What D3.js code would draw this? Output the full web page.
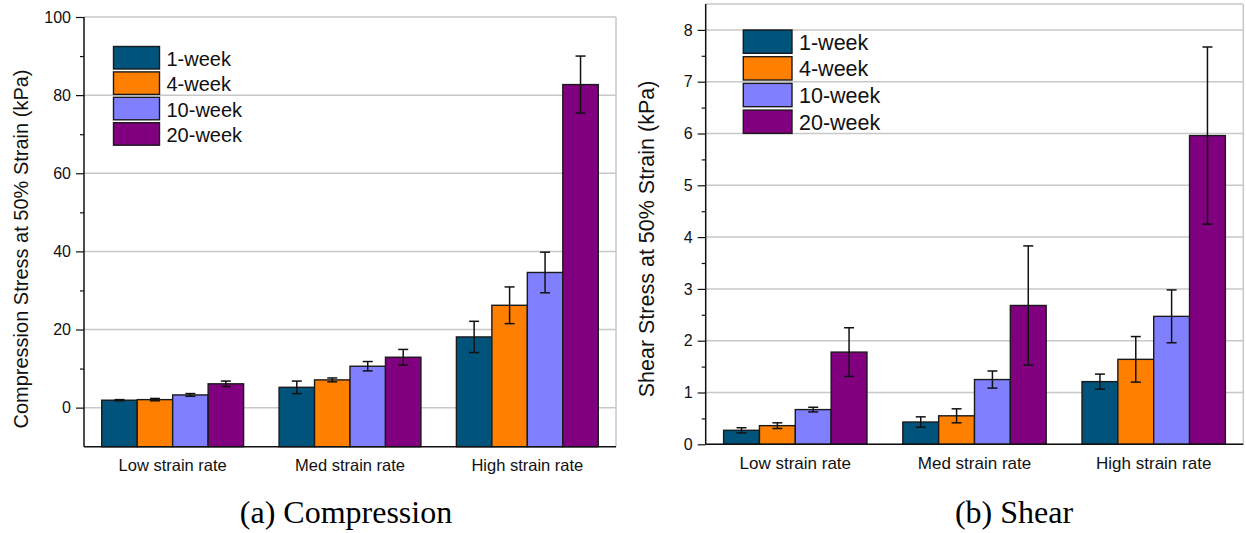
<!DOCTYPE html>
<html><head><meta charset="utf-8">
<script src="https://cdn.jsdelivr.net/npm/d3@7"></script>
<style>
html,body{margin:0;padding:0;background:#fff;}
svg{display:block;font-family:"Liberation Sans",Arial,sans-serif;}
</style></head>
<body>
<svg id="chart" width="1246" height="533"></svg>
<script>
// ---------- DATA ----------
const categories = ["Low strain rate", "Med strain rate", "High strain rate"];
const seriesNames = ["1-week", "4-week", "10-week", "20-week"];
const seriesColors = ["#00537a", "#ff8000", "#8080ff", "#800080"];

// Compression stress at 50% strain (kPa): means and error (±) per series, per category
const comp1wk = [1.9, 5.2, 18.1];
const comp4wk = [2.05, 7.1, 26.2];
const comp10wk = [3.25, 10.6, 34.6];
const comp20wk = [6.1, 12.9, 82.7];
const comp1wkErr = [0.15, 1.6, 4.0];
const comp4wkErr = [0.3, 0.5, 4.7];
const comp10wkErr = [0.35, 1.2, 5.2];
const comp20wkErr = [0.7, 2.0, 7.3];
const compTicks = [0, 20, 40, 60, 80, 100];
const compMinorTicks = [10, 30, 50, 70, 90];

// Shear stress at 50% strain (kPa)
const shear1wk = [0.27, 0.43, 1.21];
const shear4wk = [0.36, 0.55, 1.64];
const shear10wk = [0.67, 1.25, 2.47];
const shear20wk = [1.78, 2.68, 5.96];
const shear1wkErr = [0.05, 0.1, 0.145];
const shear4wkErr = [0.055, 0.135, 0.44];
const shear10wkErr = [0.045, 0.165, 0.51];
const shear20wkErr = [0.47, 1.15, 1.71];
const shearTicks = [0, 1, 2, 3, 4, 5, 6, 7, 8];
const shearMinorTicks = [0.5, 1.5, 2.5, 3.5, 4.5, 5.5, 6.5, 7.5];

const captions = ["(a) Compression", "(b) Shear"];

// ---------- DRAW ----------
const svg = d3.select("#chart");

function drawPanel(cfg) {
  const g = svg.append("g");
  const x = d3.scaleBand().domain(categories).range([cfg.left, cfg.right]).padding(0);
  const bw = x.bandwidth();
  const x1 = d3.scaleBand().domain(seriesNames).range([0.1 * bw, 0.9 * bw]).padding(0);
  const y = d3.scaleLinear().domain(cfg.domain).range([cfg.bottom, cfg.top]);

  // grid lines
  g.append("g").selectAll("line").data(cfg.ticks).join("line")
    .attr("x1", cfg.left).attr("x2", cfg.right)
    .attr("y1", d => y(d)).attr("y2", d => y(d))
    .attr("stroke", "#c8c8c8").attr("stroke-width", 1.5);
  // top border (if top isn't a tick)
  if (cfg.domain[1] !== cfg.ticks[cfg.ticks.length - 1]) {
    g.append("line").attr("x1", cfg.left).attr("x2", cfg.right)
      .attr("y1", y(cfg.domain[1])).attr("y2", y(cfg.domain[1]))
      .attr("stroke", "#c8c8c8").attr("stroke-width", 1.5);
  }
  // right border
  g.append("line").attr("x1", cfg.right).attr("x2", cfg.right)
    .attr("y1", y(cfg.domain[1])).attr("y2", cfg.bottom)
    .attr("stroke", "#c8c8c8").attr("stroke-width", 1.5);

  // bars
  const rows = [];
  categories.forEach((c, ci) => {
    seriesNames.forEach((s, si) => {
      rows.push({cat: c, ser: s, si: si, v: cfg.values[si][ci], e: cfg.errors[si][ci]});
    });
  });
  const base = Math.max(cfg.domain[0], 0) === 0 && cfg.domain[0] < 0 ? cfg.domain[0] : cfg.domain[0];
  g.append("g").selectAll("rect").data(rows).join("rect")
    .attr("x", d => x(d.cat) + x1(d.ser))
    .attr("width", x1.bandwidth())
    .attr("y", d => y(d.v))
    .attr("height", d => y(base) - y(d.v))
    .attr("fill", d => seriesColors[d.si])
    .attr("stroke", "#1a1a1a").attr("stroke-width", 1.4);

  // error bars
  const eg = g.append("g").attr("stroke", "#111").attr("stroke-width", 1.5).attr("fill", "none");
  rows.forEach(d => {
    const cx = x(d.cat) + x1(d.ser) + x1.bandwidth() / 2;
    eg.append("line").attr("x1", cx).attr("x2", cx).attr("y1", y(d.v + d.e)).attr("y2", y(d.v - d.e));
    eg.append("line").attr("x1", cx - 5).attr("x2", cx + 5).attr("y1", y(d.v + d.e)).attr("y2", y(d.v + d.e));
    eg.append("line").attr("x1", cx - 5).attr("x2", cx + 5).attr("y1", y(d.v - d.e)).attr("y2", y(d.v - d.e));
  });

  // y axis
  const yAxis = d3.axisLeft(y).tickValues(cfg.ticks).tickSize(8).tickPadding(5).tickFormat(d3.format("d"));
  const ya = g.append("g").attr("transform", `translate(${cfg.left},0)`).call(yAxis);
  ya.select(".domain").attr("stroke", "#111").attr("stroke-width", 1.5).attr("d", `M0,${y(cfg.domain[0])}V${y(cfg.domain[1])}`);
  ya.selectAll(".tick line").attr("stroke", "#111").attr("stroke-width", 1.2);
  ya.selectAll(".tick text").attr("font-size", 16).attr("fill", "#111")
    .attr("font-family", "'Liberation Sans', Arial, sans-serif");
  const yMinor = d3.axisLeft(y).tickValues(cfg.minor).tickSize(4).tickFormat("");
  const ym = g.append("g").attr("transform", `translate(${cfg.left},0)`).call(yMinor);
  ym.select(".domain").remove();
  ym.selectAll(".tick line").attr("stroke", "#111").attr("stroke-width", 1.2);

  // x axis
  const xAxis = d3.axisBottom(x).tickSize(0).tickPadding(13);
  const xa = g.append("g").attr("transform", `translate(0,${cfg.bottom})`).call(xAxis);
  xa.select(".domain").attr("stroke", "#111").attr("stroke-width", 1.5).attr("d", `M${cfg.left},0H${cfg.right}`);
  xa.selectAll(".tick text").attr("font-size", cfg.catFont).attr("fill", "#111")
    .attr("font-family", "'Liberation Sans', Arial, sans-serif");

  // y title
  g.append("text")
    .attr("transform", `translate(${cfg.titleX},${cfg.titleY}) rotate(-90)`)
    .attr("text-anchor", "middle").attr("dominant-baseline", "central")
    .attr("font-size", cfg.titleFont).attr("fill", "#111")
    .text(cfg.title);

  // legend
  const lg = g.append("g");
  seriesNames.forEach((s, i) => {
    const yy = cfg.legY + i * cfg.legStep;
    lg.append("rect").attr("x", cfg.legX).attr("y", yy).attr("width", cfg.legW).attr("height", cfg.legH)
      .attr("fill", seriesColors[i]).attr("stroke", "#1a1a1a").attr("stroke-width", 1.4);
    lg.append("text").attr("x", cfg.legX + cfg.legW + 7).attr("y", yy + cfg.legH / 2 + 1)
      .attr("dominant-baseline", "central").attr("font-size", cfg.legFont).attr("fill", "#111").text(s);
  });

  // caption
  svg.append("text").attr("x", cfg.capX).attr("y", 523).attr("text-anchor", "middle")
    .attr("font-family", "'Liberation Serif','Times New Roman',serif").attr("font-size", 32)
    .attr("fill", "#000").text(cfg.caption);
}

drawPanel({
  left: 84, right: 616, top: 17, bottom: 446.7,
  domain: [-10, 100], ticks: compTicks, minor: compMinorTicks,
  values: [comp1wk, comp4wk, comp10wk, comp20wk],
  errors: [comp1wkErr, comp4wkErr, comp10wkErr, comp20wkErr],
  title: "Compression Stress at 50% Strain (kPa)", titleX: 21, titleY: 249, titleFont: 20,
  catFont: 16.5,
  legX: 113.5, legY: 46.5, legW: 46, legH: 22.5, legStep: 25.4, legFont: 20,
  caption: captions[0], capX: 346
});

drawPanel({
  left: 705.7, right: 1243.3, top: 4, bottom: 444.3,
  domain: [0, 8.5], ticks: shearTicks, minor: shearMinorTicks,
  values: [shear1wk, shear4wk, shear10wk, shear20wk],
  errors: [shear1wkErr, shear4wkErr, shear10wkErr, shear20wkErr],
  title: "Shear Stress at 50% Strain (kPa)", titleX: 647, titleY: 239, titleFont: 21.5,
  catFont: 17,
  legX: 743.3, legY: 30, legW: 48.7, legH: 23.3, legStep: 26.7, legFont: 21.5,
  caption: captions[1], capX: 1014
});
</script>
</body></html>
